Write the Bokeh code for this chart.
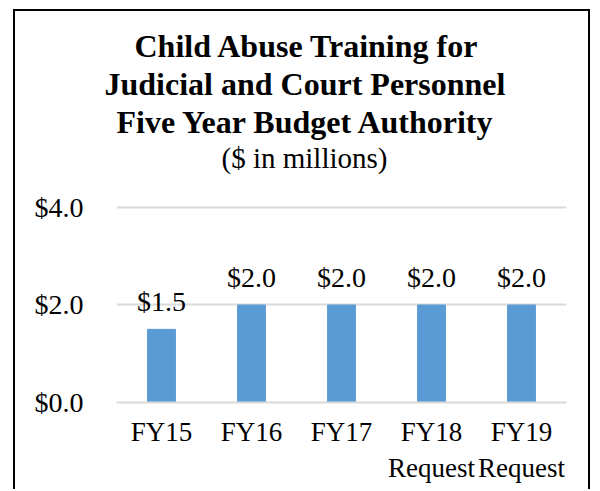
from bokeh.plotting import figure
from bokeh.models import (ColumnDataSource, Range1d, FactorRange, FixedTicker,
                          NumeralTickFormatter, LabelSet, Title)
from bokeh.embed import file_html
from bokeh.resources import INLINE

categories = ["FY15", "FY16", "FY17", "FY18\nRequest", "FY19\nRequest"]
values = [1.5, 2.0, 2.0, 2.0, 2.0]
y_ticks = [0, 2, 4]
title_lines = ["Child Abuse Training for", "Judicial and Court Personnel",
               "Five Year Budget Authority"]
subtitle = "($ in millions)"

FONT = "Liberation Serif"
BAR = "#5B9BD5"
GRID = "#d9d9d9"

src = ColumnDataSource(dict(cat=categories, val=values,
                            lab=[f"${v:.1f}" for v in values]))

p = figure(x_range=FactorRange(*categories), y_range=Range1d(0, 4.697),
           width=577, height=480, output_backend="svg", toolbar_location=None,
           min_border_left=101, min_border_right=26, min_border_top=162,
           min_border_bottom=89)
p.title = None
p.outline_line_color = None
p.styles = {"margin-left": "13px", "margin-top": "9px",
            "border-left": "2px solid black", "border-top": "2px solid black",
            "border-right": "2px solid black"}

p.vbar(x="cat", top="val", width=0.31, source=src, color=BAR)

p.yaxis.ticker = FixedTicker(ticks=y_ticks)
p.yaxis.formatter = NumeralTickFormatter(format="$0.0")
p.yaxis.axis_line_color = None
p.yaxis.major_tick_line_color = None
p.yaxis.minor_tick_line_color = None
p.yaxis.major_label_standoff = 27
p.yaxis.major_label_text_font = FONT
p.yaxis.major_label_text_font_size = "28px"
p.yaxis.major_label_text_color = "black"

p.xaxis.axis_line_color = GRID
p.xaxis.axis_line_width = 2
p.xaxis.major_tick_line_color = None
p.xaxis.minor_tick_line_color = None
p.xaxis.major_label_standoff = 8
p.xaxis.major_label_text_font = FONT
p.xaxis.major_label_text_font_size = "27px"
p.xaxis.major_label_text_color = "black"

p.xgrid.grid_line_color = None
p.ygrid.grid_line_color = GRID
p.ygrid.grid_line_width = 2

labels = LabelSet(x="cat", y="val", text="lab", source=src, y_offset=18,
                  text_align="center", text_baseline="alphabetic",
                  text_font=FONT, text_font_size="28px", text_color="black")
p.add_layout(labels)

# titles stacked upward from the plot frame: first added sits closest
p.add_layout(Title(text=subtitle, align="left", offset=105, standoff=0,
                   text_font=FONT, text_font_size="29px",
                   text_font_style="normal", text_color="black"), "above")
for t, off in zip(reversed(title_lines), [0, -12, 18]):
    p.add_layout(Title(text=t, align="left", offset=off, standoff=0,
                       text_font=FONT, text_font_size="32px",
                       text_font_style="bold", text_color="black"), "above")

open("out.html", "w").write(file_html(p, INLINE))
